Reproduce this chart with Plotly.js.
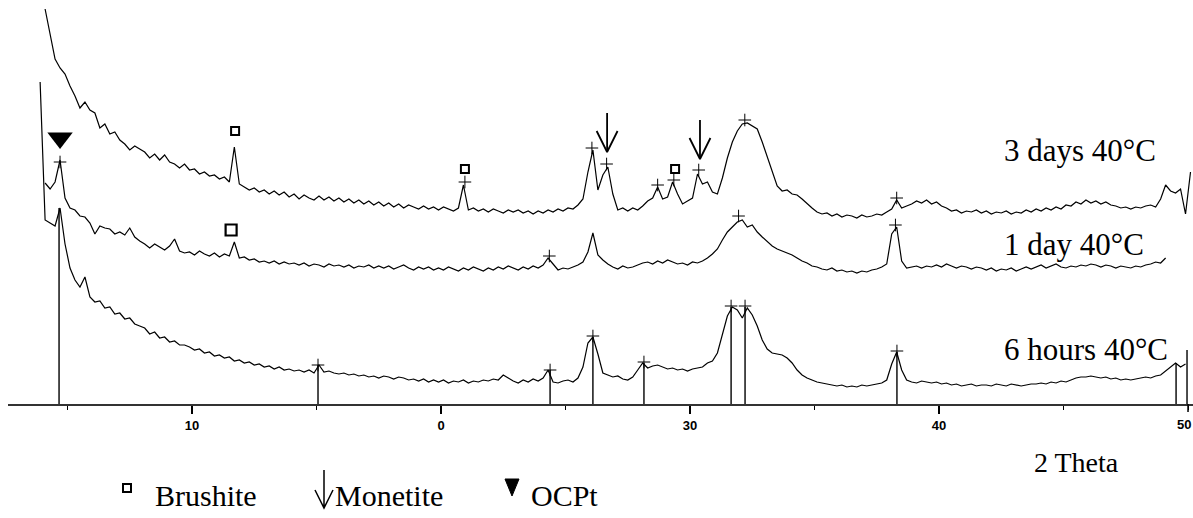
<!DOCTYPE html>
<html>
<head>
<meta charset="utf-8">
<script src="https://cdn.plot.ly/plotly-3.0.1.min.js"></script>
<style>html,body{margin:0;padding:0;background:#fff;}#chart{width:1193px;height:518px;}</style>
</head>
<body>
<div id="chart"></div>
<script>
// 2-Theta sampling grid (degrees)
const thetaStart = 3.9;
const thetaStep = 0.2;

// Intensities (arbitrary units, stacked offsets included)
const threeDays = [
 null,395,371,345,336,330,318,308,296,302,
 294,291,276,280,270,272,264,260,254,258,
 255,252,246,250,244,249,242,240,236,240,
 234,235,230,232,228,229,225,227,222,257,
 220,217,214,216,212,214,210,213,209,212,
 207,210,205,209,206,204,208,204,207,203,
 206,202,205,201,204,200,203,199,202,198,
 201,197,200,196,199,197,195,198,195,197,
 194,197,195,193,196,219,194,196,193,195,
 192,195,193,191,194,192,194,191,193,190,
 193,191,194,192,195,193,196,195,199,205,
 232,254,214,229,237,210,194,196,193,196,
 194,198,203,206,217,205,207,222,210,200,
 203,206,230,220,222,212,210,226,246,262,
 273,280,281,278,275,262,248,232,218,213,
 214,210,209,205,200,196,192,190,191,188,
 190,187,189,188,186,189,187,188,190,189,
 192,195,204,196,198,200,203,201,204,200,
 202,198,196,193,194,191,193,192,194,191,
 193,190,192,191,193,190,192,191,194,192,
 195,193,196,194,197,195,199,198,202,200,
 204,201,203,200,202,199,198,196,197,195,
 197,196,198,199,197,205,219,213,211,215,
 190,232
];

const oneDay = [
 null,221,215,222,244,206,196,194,188,187,
 181,170,178,176,175,170,172,169,176,167,
 163,160,156,160,157,154,158,165,153,151,
 152,149,153,150,148,151,147,150,148,162,
 146,147,144,145,142,143,141,143,140,142,
 140,141,139,141,138,140,139,137,140,138,
 139,137,139,136,138,137,139,136,138,136,
 138,135,137,139,136,134,137,135,137,134,
 136,134,137,135,133,136,134,137,135,133,
 136,134,137,135,138,136,134,137,135,138,
 136,139,146,140,134,136,135,137,139,142,
 152,171,149,144,140,137,135,138,136,137,
 139,141,142,140,143,141,144,142,140,141,
 139,142,141,143,146,150,155,164,172,177,
 182,184,177,179,172,167,162,158,155,153,
 151,149,146,143,141,138,137,135,134,136,
 133,134,132,133,131,133,132,134,135,137,
 140,170,177,143,136,137,138,136,138,137,
 139,137,140,138,136,138,137,135,137,136,
 134,136,133,135,134,136,133,135,137,135,
 137,139,136,138,140,137,136,138,137,139,
 138,140,139,137,139,138,136,138,137,136,
 138,137,139,140,142,141,146,null,null,null,
 null,null
];

const sixHours = [
 322,184,181,178,196,160,136,124,117,127,
 107,102,103,96,97,90,91,85,86,80,
 78,76,70,72,66,67,62,63,59,59,
 57,54,55,51,52,48,49,46,47,43,
 44,41,42,39,40,37,38,35,37,34,
 35,33,34,32,34,31,39,32,33,31,
 30,31,29,30,28,29,27,28,26,28,
 27,25,27,26,24,25,23,25,22,24,
 22,24,21,23,22,24,21,23,22,24,
 23,25,24,29,26,23,21,24,22,25,
 23,26,34,22,21,23,24,22,26,37,
 61,67,50,31,29,27,28,25,24,27,
 34,41,36,38,39,37,35,36,34,35,
 33,35,36,37,41,43,51,70,88,97,
 94,86,96,89,78,64,55,51,50,49,
 46,41,34,29,26,24,22,21,20,19,
 18,19,17,18,17,19,18,19,20,21,
 24,40,52,34,24,22,21,23,22,21,
 22,20,21,19,20,18,19,20,18,19,
 19,18,20,19,18,20,19,18,19,20,
 20,21,20,22,21,23,22,24,26,27,
 27,28,27,26,27,25,26,24,25,24,
 25,26,27,26,28,29,33,37,41,37,
 40,null
];

// Reference stick pattern under the 6 hours trace
const stickPos = [4.66, 15.06, 24.38, 26.10, 28.15, 31.65, 32.21, 38.31, 49.52, 49.96];
const stickTop = [196, 39, 34, 67, 41, 97, 97, 52, 41, 54];

// Peak-search "+" marks
const plus3Pos = [20.96, 26.06, 26.65, 28.7, 29.35, 30.35, 32.2, 38.3];
const plus3Val = [222, 256, 240, 219, 224, 234, 284, 206];
const plus1Pos = [4.7, 24.35, 31.95, 38.25];
const plus1Val = [242, 148, 188, 179];
const plus6Pos = [15.06, 24.38, 26.10, 28.15, 31.65, 32.21, 38.31];
const plus6Val = [39, 34, 68, 42, 98, 98, 53];

// Phase markers
const brushite3Pos = [11.73, 20.96, 29.4];
const brushite3Val = [273, 235, 235];
const brushite1Pos = [11.57];
const brushite1Val = [174];
const monetitePos = [26.67, 30.4];
const monetiteTail = [291, 284];
const monetiteTip = [252, 245];
const ocpPos = [4.7];
const ocpVal = [266];

// Axis ticks
const tickValues = [10, 20, 30, 40];
const tickLabels = ['10', '0', '30', '40'];
const lastTickLabel = '50';

// Series labels
const seriesLabels = ['3 days 40°C', '1 day 40°C', '6 hours 40°C'];
const labelY = [254, 160, 55];
const labelX = 42.53;

const twoTheta = threeDays.map((_, i) => +(thetaStart + i * thetaStep).toFixed(2));

const lineStyle = {color: '#000', width: 1.2};
const traces = [];
[threeDays, oneDay, sixHours].forEach((ys, i) => {
  traces.push({x: twoTheta, y: ys, type: 'scatter', mode: 'lines', line: lineStyle,
    connectgaps: false, hoverinfo: 'skip', name: seriesLabels[i]});
});

// sticks
const sx = [], sy = [];
stickPos.forEach((p, i) => { sx.push(p, p, null); sy.push(0, stickTop[i], null); });
traces.push({x: sx, y: sy, type: 'scatter', mode: 'lines', line: {color: '#000', width: 1.4}, hoverinfo: 'skip'});

// plus marks
traces.push({x: plus3Pos.concat(plus1Pos, plus6Pos), y: plus3Val.concat(plus1Val, plus6Val),
  type: 'scatter', mode: 'markers', cliponaxis: false,
  marker: {symbol: 'cross-thin', size: 9, line: {color: '#000', width: 1}}, hoverinfo: 'skip'});

// brushite squares
traces.push({x: brushite3Pos, y: brushite3Val, type: 'scatter', mode: 'markers', cliponaxis: false,
  marker: {symbol: 'square-open', size: 8, color: '#000', line: {color: '#000', width: 2}}, hoverinfo: 'skip'});
traces.push({x: brushite1Pos, y: brushite1Val, type: 'scatter', mode: 'markers', cliponaxis: false,
  marker: {symbol: 'square-open', size: 11, color: '#000', line: {color: '#000', width: 2.2}}, hoverinfo: 'skip'});

// OCP triangle
traces.push({x: ocpPos, y: ocpVal, type: 'scatter', mode: 'markers', cliponaxis: false,
  marker: {symbol: 'triangle-down', size: 22, color: '#000'}, hoverinfo: 'skip'});

// monetite arrows
const ax = [], ay = [];
const headW = 0.42, headH = 21;
monetitePos.forEach((p, i) => {
  ax.push(p, p, null, p - headW, p, p + headW, null);
  ay.push(monetiteTail[i], monetiteTip[i], null, monetiteTip[i] + headH, monetiteTip[i], monetiteTip[i] + headH, null);
});
traces.push({x: ax, y: ay, type: 'scatter', mode: 'lines', cliponaxis: false, line: {color: '#000', width: 1.8}, hoverinfo: 'skip'});

const serif = 'Liberation Serif';
const annotations = seriesLabels.map((t, i) => ({
  x: labelX, y: labelY[i], xref: 'x', yref: 'y', text: t, showarrow: false,
  xanchor: 'left', yanchor: 'middle', font: {family: serif, size: 31, color: '#000'}
}));

// px -> paper helpers for the legend & axis title below the plot
const L = 8, PW = 1185, PH = 404;
const px2p = v => (v - L) / PW;
const py2p = v => (PH - v) / PH;

annotations.push({x: px2p(1193), y: py2p(424), xref: 'paper', yref: 'paper', text: lastTickLabel, showarrow: false,
  xanchor: 'right', yanchor: 'middle', xshift: 0,
  font: {family: 'Liberation Sans', size: 13, color: '#000', weight: 'bold'}});
annotations.push({x: px2p(1032), y: py2p(463), xref: 'paper', yref: 'paper', text: '2 Theta', showarrow: false,
  xanchor: 'left', yanchor: 'middle', font: {family: serif, size: 28, color: '#000'}});
annotations.push({x: px2p(153), y: py2p(495), xref: 'paper', yref: 'paper', text: 'Brushite', showarrow: false,
  xanchor: 'left', yanchor: 'middle', font: {family: serif, size: 30, color: '#000'}});
annotations.push({x: px2p(333), y: py2p(495), xref: 'paper', yref: 'paper', text: 'Monetite', showarrow: false,
  xanchor: 'left', yanchor: 'middle', font: {family: serif, size: 30, color: '#000'}});
annotations.push({x: px2p(529), y: py2p(495), xref: 'paper', yref: 'paper', text: 'OCPt', showarrow: false,
  xanchor: 'left', yanchor: 'middle', font: {family: serif, size: 30, color: '#000'}});

const shapes = [
  {type: 'rect', xref: 'paper', yref: 'paper', x0: px2p(123), x1: px2p(131), y0: py2p(492), y1: py2p(484),
    line: {color: '#000', width: 2}},
  {type: 'path', xref: 'paper', yref: 'paper',
    path: `M ${px2p(324)} ${py2p(470)} L ${px2p(324)} ${py2p(508)} M ${px2p(315)} ${py2p(490)} L ${px2p(324)} ${py2p(508)} L ${px2p(333)} ${py2p(490)}`,
    line: {color: '#000', width: 1.5}},
  {type: 'path', xref: 'paper', yref: 'paper',
    path: `M ${px2p(505)} ${py2p(479)} L ${px2p(519)} ${py2p(479)} L ${px2p(512)} ${py2p(496)} Z`,
    fillcolor: '#000', line: {color: '#000', width: 1}},
  // major tick at 50 (its label is drawn as an annotation so it stays inside the page)
  {type: 'line', xref: 'x', yref: 'paper', x0: 50, x1: 50, y0: 0, y1: py2p(412),
    line: {color: '#000', width: 1.5}}
];

const layout = {
  width: 1193, height: 518,
  margin: {l: L, r: 0, t: 0, b: 114, pad: 0},
  paper_bgcolor: '#fff', plot_bgcolor: '#fff',
  showlegend: false,
  xaxis: {
    range: [2.61, 50.2], tickvals: tickValues, ticktext: tickLabels,
    ticks: 'outside', ticklen: 8, tickwidth: 1.5, tickcolor: '#000',
    showline: true, linecolor: '#333', linewidth: 2, showgrid: false, zeroline: false,
    tickfont: {family: 'Liberation Sans', size: 13, color: '#000', weight: 'bold'},
    minor: {dtick: 5, tick0: 0, ticks: 'outside', ticklen: 4, tickwidth: 1, tickcolor: '#000', showgrid: false}
  },
  yaxis: {range: [0, 404], visible: false, showgrid: false, zeroline: false, fixedrange: true},
  annotations: annotations,
  shapes: shapes
};

Plotly.newPlot('chart', traces, layout, {staticPlot: true, displayModeBar: false});
</script>
</body>
</html>
